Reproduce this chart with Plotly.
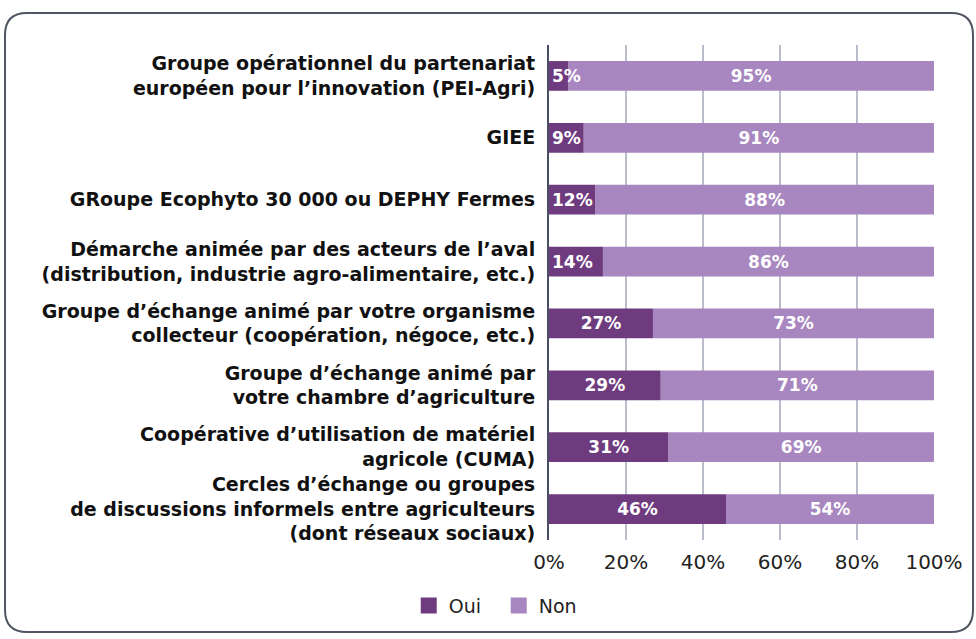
import plotly.graph_objects as go

categories = [
    "Groupe opérationnel du partenariat<br>européen pour l’innovation (PEI-Agri)",
    "GIEE",
    "GRoupe Ecophyto 30 000 ou DEPHY Fermes",
    "Démarche animée par des acteurs de l’aval<br>(distribution, industrie agro-alimentaire, etc.)",
    "Groupe d’échange animé par votre organisme<br>collecteur (coopération, négoce, etc.)",
    "Groupe d’échange animé par<br>votre chambre d’agriculture",
    "Coopérative d’utilisation de matériel<br>agricole (CUMA)",
    "Cercles d’échange ou groupes<br>de discussions informels entre agriculteurs<br>(dont réseaux sociaux)",
]
oui = [5, 9, 12, 14, 27, 29, 31, 46]
non = [95, 91, 88, 86, 73, 71, 69, 54]
tick_vals = [0, 20, 40, 60, 80, 100]
tick_text = ["0%", "20%", "40%", "60%", "80%", "100%"]
series_names = ["Oui", "Non"]
series_colors = ["#6e3b7e", "#a886c0"]

W, H = 976, 639
ML, MR, MT, MB = 549, 42, 45, 99
FONT = "DejaVu Sans"
SMALL = 20  # below this share, label is anchored at bar start
LABEL_FONT = dict(color="white", size=17, family=FONT, weight=600)

fig = go.Figure()
# Non segment drawn first, stacked on top of Oui via base, so Oui labels overlay it
fig.add_trace(go.Bar(
    y=categories, x=non, base=oui, name="Non", orientation="h",
    marker=dict(color=series_colors[1], line=dict(width=0)),
    text=[f"{v}%" for v in non], textposition="inside", insidetextanchor="middle",
    textfont=LABEL_FONT, constraintext="none", textangle=0, showlegend=False,
))
# Oui: narrow bars (label at start) and wide bars (label centered)
for anchor, keep in (("start", lambda v: v < SMALL), ("middle", lambda v: v >= SMALL)):
    ys = [c for c, v in zip(categories, oui) if keep(v)]
    xs = [v for v in oui if keep(v)]
    fig.add_trace(go.Bar(
        y=ys, x=xs, base=[0] * len(xs), name="Oui", orientation="h",
        marker=dict(color=series_colors[0], line=dict(width=0)),
        text=[f"{v}%" for v in xs], textposition="inside", insidetextanchor=anchor,
        textfont=LABEL_FONT, constraintext="none", textangle=0, showlegend=False,
    ))
# legend entries with larger square swatches
for name, col in zip(series_names, series_colors):
    fig.add_trace(go.Scatter(
        x=[None], y=[None], mode="markers", name=name,
        marker=dict(symbol="square", size=18, color=col), showlegend=True,
    ))

# rounded border in paper coordinates
pw = W - ML - MR
ph = H - MT - MB
def px(x):
    return (x - ML) / pw
def py(y):
    return (H - MB - y) / ph
x0, x1, y0, y1, r = 5, 973, 13, 632, 22
path = (
    f"M {px(x0+r)} {py(y0)} L {px(x1-r)} {py(y0)} "
    f"Q {px(x1)} {py(y0)} {px(x1)} {py(y0+r)} "
    f"L {px(x1)} {py(y1-r)} Q {px(x1)} {py(y1)} {px(x1-r)} {py(y1)} "
    f"L {px(x0+r)} {py(y1)} Q {px(x0)} {py(y1)} {px(x0)} {py(y1-r)} "
    f"L {px(x0)} {py(y0+r)} Q {px(x0)} {py(y0)} {px(x0+r)} {py(y0)} Z"
)
fig.add_shape(type="path", path=path, xref="paper", yref="paper",
              line=dict(color="#4f5563", width=2), layer="below")

fig.update_layout(
    width=W, height=H,
    barmode="overlay", bargap=0.52,
    margin=dict(l=ML, r=MR, t=MT, b=MB),
    paper_bgcolor="white", plot_bgcolor="white",
    font=dict(family=FONT, color="#1a1a1a"),
    showlegend=True,
    legend=dict(orientation="h", x=0.511, xref="container", xanchor="center",
                y=0.052, yref="container", yanchor="middle",
                font=dict(size=19, color="#222222", family=FONT), traceorder="normal",
                itemwidth=30, entrywidth=45, entrywidthmode="pixels"),
)
fig.update_xaxes(range=[0, 100], tickvals=tick_vals, ticktext=tick_text,
                 showgrid=True, gridcolor="#b9bdcc", gridwidth=1.5,
                 zeroline=False, showline=False, ticks="",
                 tickfont=dict(size=20, color="#222222", family=FONT), ticklabelstandoff=8)
fig.update_yaxes(autorange="reversed", showgrid=False, ticks="", showline=True,
                 linecolor="#4a4f63", linewidth=2,
                 categoryorder="array", categoryarray=categories,
                 tickfont=dict(size=19, color="#111111", family=FONT, weight=700),
                 ticklabelstandoff=8)
fig.write_html("out.html", post_script="document.body.style.margin='0';",
               config={"displayModeBar": False})
